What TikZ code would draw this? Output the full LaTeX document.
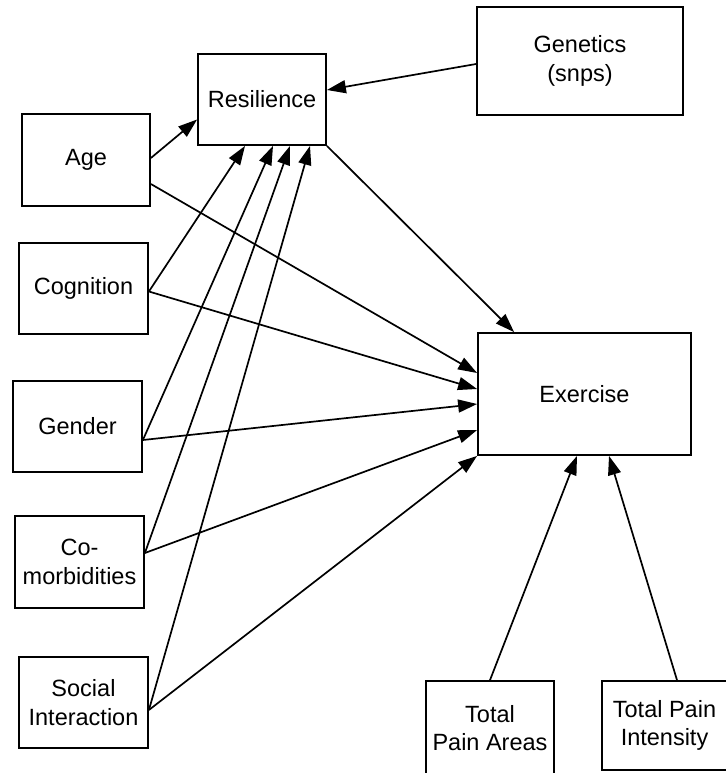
\documentclass[tikz,border=0pt]{standalone}
\usepackage{fontspec}
\setmainfont{Liberation Sans}
\usetikzlibrary{arrows.meta}
\begin{document}
\begin{tikzpicture}[x=1pt,y=-1pt,
  box/.style={draw, line width=1.8pt, inner sep=0pt, align=center,
    font=\fontsize{23.5}{28.5}\selectfont},
  link/.style={line width=1.7pt, -{Triangle[length=19pt,width=13pt]}}]
  \useasboundingbox (0,0) rectangle (725,773);

  % variables
  \node[box, minimum width=128pt, minimum height=91pt]  (res)      at (262,99.5)  {Resilience};
  \node[box, minimum width=206pt, minimum height=108pt] (genetics) at (580,61)    {Genetics\\(snps)};
  \node[box, minimum width=128pt, minimum height=92pt]  (age)      at (86,160)    {Age};
  \node[box, minimum width=129pt, minimum height=91pt]  (cog)      at (83.5,288.5){Cognition};
  \node[box, minimum width=129pt, minimum height=91pt]  (gender)   at (77.5,426.5){Gender};
  \node[box, minimum width=129pt, minimum height=92pt]  (comorb)   at (79.5,562)  {Co-\\morbidities};
  \node[box, minimum width=129pt, minimum height=91pt]  (social)   at (83.5,702.5){Social\\Interaction};
  \node[box, minimum width=213pt, minimum height=122pt] (ex)       at (584.5,394) {Exercise};
  \node[box, minimum width=128pt, minimum height=94pt]  (tpa)      at (490,728)   {Total\\Pain Areas};
  \node[box, minimum width=125pt, minimum height=89pt]  (tpi)      at (664.5,725.5){Total Pain\\Intensity};

  % paths into resilience
  \draw[link] ([yshift=-3pt]genetics.west) -- ([yshift=9.5pt]res.east);
  \draw[link] ([yshift=2pt]age.east) -- ([yshift=-20pt]res.west);
  \draw[link] ([yshift=-3pt]cog.east) -- ([xshift=-17pt]res.south);
  \draw[link] ([yshift=-13.5pt]gender.east) -- ([xshift=11pt]res.south);
  \draw[link] ([yshift=9pt]comorb.east) -- ([xshift=28pt]res.south);
  \draw[link] ([yshift=-7.5pt]social.east) -- ([xshift=48pt]res.south);

  % paths into exercise
  \draw[link] (res.south east) -- ([xshift=37pt]ex.north west);
  \draw[link] ([yshift=-24pt]age.east) -- ([yshift=21pt]ex.west);
  \draw[link] ([yshift=-3pt]cog.east) -- ([yshift=5pt]ex.west);
  \draw[link] ([yshift=-13.5pt]gender.east) -- ([yshift=-10pt]ex.west);
  \draw[link] ([yshift=9pt]comorb.east) -- ([yshift=-36pt]ex.west);
  \draw[link] ([yshift=-7.5pt]social.east) -- (ex.south west);
  \draw[link] (tpa.north) -- ([xshift=-7.5pt]ex.south);
  \draw[link] ([xshift=12.5pt]tpi.north) -- ([xshift=24.5pt]ex.south);
\end{tikzpicture}
\end{document}
